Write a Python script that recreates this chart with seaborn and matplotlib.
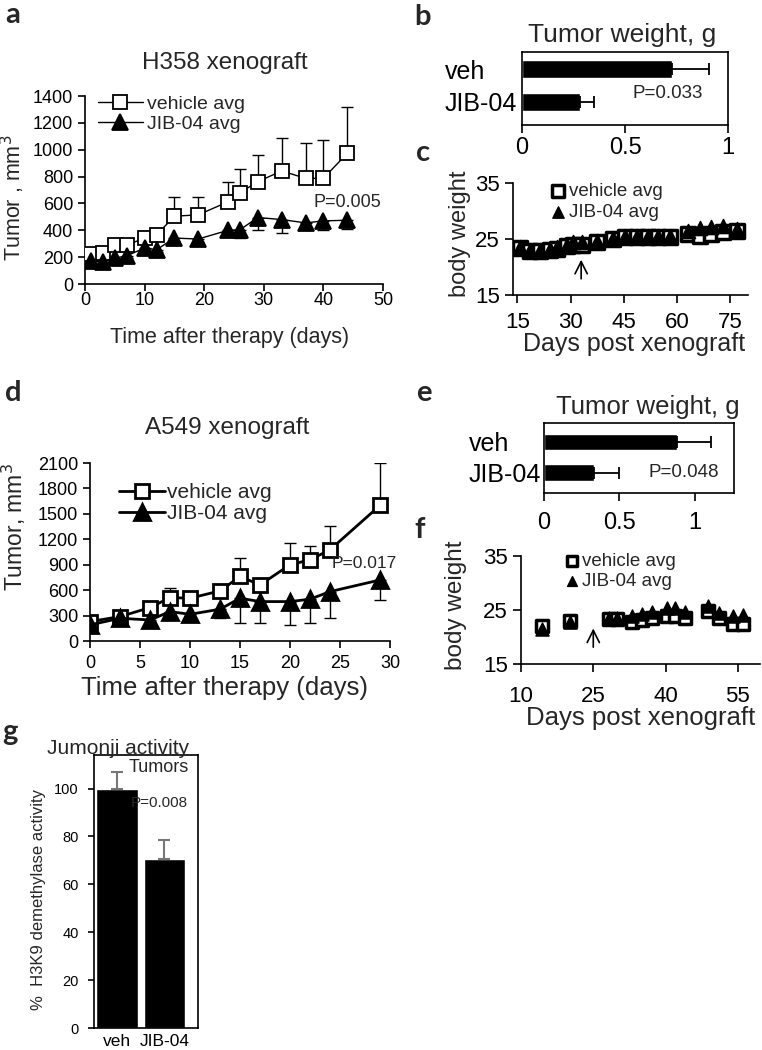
import numpy as np
import pandas as pd
import seaborn as sns
import matplotlib.pyplot as plt

# -----------------------------------------------------------------------------
# Data
# -----------------------------------------------------------------------------

# a: H358 xenograft, tumour volume (mm3)
a_days = [1, 3, 5, 7, 10, 12, 15, 19, 24, 26, 29, 33, 37, 40, 44]
a_veh = [225, 228, 290, 292, 340, 365, 505, 515, 612, 680, 762, 842, 787, 787, 973]
a_veh_err = [30, 30, 40, 40, 55, 55, 145, 135, 150, 180, 195, 248, 262, 287, 343]
a_jib = [173, 164, 193, 210, 268, 255, 342, 335, 400, 404, 495, 480, 455, 470, 475]
a_jib_err = [15, 15, 15, 15, 20, 20, 20, 20, 45, 60, 95, 100, 40, 65, 65]

# b: H358 tumour weight (g)
bar_groups = ["veh", "JIB-04"]
b_weight = [0.73, 0.28]
b_err = [0.18, 0.07]

# c: H358 body weight (g)
c_days = [15.8, 18.6, 21.4, 24.2, 26.1, 28.9, 30.8, 33.1, 37.4, 42, 45.3, 48.6,
          51.9, 54.7, 58, 63.2, 66.5, 69.7, 73, 76.8]
c_veh = [23.4, 22.8, 22.8, 23.0, 23.3, 23.7, 24.0, 24.0, 24.4, 25.0, 25.3, 25.3,
         25.3, 25.3, 25.4, 25.9, 25.5, 25.9, 26.2, 26.4]
c_jib = [23.6, 23.0, 23.0, 23.2, 23.5, 24.0, 24.4, 24.4, 24.7, 25.2, 25.5, 25.5,
         25.5, 25.5, 25.6, 26.4, 26.9, 27.1, 27.3, 26.7]

# d: A549 xenograft, tumour volume (mm3)
d_days = [0, 3, 6, 8, 10, 13, 15, 17, 20, 22, 24, 29]
d_veh = [229, 288, 394, 512, 505, 591, 761, 662, 899, 958, 1076, 1600]
d_veh_err = [30, 47, 30, 111, 40, 30, 217, 30, 256, 157, 284, 500]
d_jib = [190, 268, 248, 347, 315, 375, 505, 465, 465, 493, 583, 720]
d_jib_err = [20, 20, 20, 91, 30, 107, 296, 256, 275, 276, 315, 236]

# e: A549 tumour weight (g)
e_weight = [0.88, 0.33]
e_err = [0.225, 0.17]

# f: A549 body weight (g)
f_days = [14.3, 20.1, 28.2, 29.9, 33, 35.1, 37.2, 40.2, 42, 44.1, 48.9, 51, 54, 56]
f_veh = [22.0, 23.0, 23.3, 23.3, 22.7, 23.1, 23.6, 23.9, 23.8, 23.6, 24.9, 23.5, 22.5, 22.4]
f_jib = [21.4, 22.8, 23.5, 23.5, 23.8, 24.3, 24.7, 25.3, 25.3, 24.7, 25.7, 24.4, 23.9, 24.1]

# g: Jumonji activity in tumours (%)
g_activity = [100, 70.5]
g_err = [6.8, 8.0]

# -----------------------------------------------------------------------------
# Plotting attributes
# -----------------------------------------------------------------------------

sns.set_theme(style="ticks")
plt.rcParams["font.family"] = ["Liberation Sans", "DejaVu Sans"]
plt.rcParams["axes.linewidth"] = 1.2
plt.rcParams["xtick.major.width"] = 1.2
plt.rcParams["ytick.major.width"] = 1.2
plt.rcParams["xtick.color"] = "black"
plt.rcParams["ytick.color"] = "black"
plt.rcParams["axes.edgecolor"] = "black"

W, H = 762, 1050


def rect(l, t, r, b):
    return [l / W, 1 - b / H, (r - l) / W, (b - t) / H]


def fx(x):
    return x / W


def fy(y):
    return 1 - y / H


fig = plt.figure(figsize=(W / 100, H / 100), dpi=100)
fig.patch.set_facecolor("white")

label_font = dict(family=["Lato", "DejaVu Sans"], fontweight="bold", fontsize=21)


def panel_label(s, x, y):
    fig.text(fx(x), fy(y), s, ha="center", va="center", **label_font)


def tumour_panel(ax, days, veh, veh_err, jib, jib_err, lw, ms, mew):
    zero = [0] * len(days)
    ax.errorbar(days, veh, yerr=[zero, veh_err], fmt="none", ecolor="black",
                elinewidth=1, capsize=4, capthick=1, zorder=1)
    ax.errorbar(days, jib, yerr=[jib_err, zero], fmt="none", ecolor="black",
                elinewidth=1, capsize=4, capthick=1, zorder=1)
    sns.lineplot(x=days, y=veh, ax=ax, color="black", lw=lw, marker="s", ms=ms,
                 markerfacecolor="white", markeredgecolor="black",
                 markeredgewidth=mew, label="vehicle avg", zorder=3)
    sns.lineplot(x=days, y=jib, ax=ax, color="black", lw=lw, marker="^", ms=ms + 1,
                 markerfacecolor="black", markeredgecolor="black",
                 markeredgewidth=mew, label="JIB-04 avg", zorder=3)
    sns.despine(ax=ax)


def weight_panel(ax, weight, err, label_x, ax_left, tick_pad):
    sns.barplot(x=weight, y=bar_groups, orient="h", color="black", saturation=1,
                width=0.55, errorbar=None, ax=ax)
    ax.errorbar(weight, [0, 1], xerr=[[0, 0], err], fmt="none", ecolor="black",
                elinewidth=1.3, capsize=4, capthick=1.3)
    # left-aligned category labels, as in the original
    ax.tick_params(axis="y", length=0, pad=(ax_left - label_x) * 0.72, labelsize=18)
    for lbl in ax.get_yticklabels():
        lbl.set_horizontalalignment("left")
    ax.tick_params(axis="x", length=6, direction="out", labelsize=17, pad=tick_pad)
    ax.set(xlabel=None, ylabel=None)
    for s in ax.spines.values():
        s.set_visible(True)


def bodyweight_panel(ax, days, veh, jib, ms):
    sns.scatterplot(x=days, y=veh, ax=ax, marker="s", s=ms, color="white",
                    edgecolor="black", linewidth=2.5, label="vehicle avg", zorder=3)
    sns.scatterplot(x=days, y=jib, ax=ax, marker="^", s=ms * 1.05, color="black",
                    edgecolor="black", linewidth=1, label="JIB-04 avg", zorder=4)
    ax.set_ylim(15, 35)
    ax.set_yticks([15, 25, 35])
    ax.tick_params(axis="both", length=6, direction="out", labelsize=16)
    sns.despine(ax=ax)


# -----------------------------------------------------------------------------
# a: H358 xenograft
# -----------------------------------------------------------------------------
ax = fig.add_axes(rect(85, 96, 383, 284))
tumour_panel(ax, a_days, a_veh, a_veh_err, a_jib, a_jib_err, lw=1, ms=10, mew=1.3)
ax.set_xlim(0, 50)
ax.set_ylim(0, 1400)
ax.set_yticks(range(0, 1401, 200))
ax.set_xticks(range(0, 51, 10))
ax.tick_params(axis="both", length=5, direction="out", labelsize=13)
ax.tick_params(axis="x", pad=1)
ax.set_xlabel("Time after therapy (days)", fontsize=15.5)
ax.xaxis.set_label_coords(fx(230), fy(338), transform=fig.transFigure)
ax.xaxis.label.set_va("center")
ax.set_ylabel("Tumor , mm$^3$", fontsize=15.5)
ax.yaxis.set_label_coords(fx(13), fy(198), transform=fig.transFigure)
ax.yaxis.label.set_va("center")
ax.legend(loc="upper left", bbox_to_anchor=(fx(98), fy(95)),
          bbox_transform=fig.transFigure, frameon=False, fontsize=14,
          borderpad=0, borderaxespad=0, handlelength=2.3, handletextpad=0.2,
          labelspacing=0.15)
ax.text(38.3, 610, "P=0.005", fontsize=13, va="center", ha="left")
fig.text(fx(225), fy(63), "H358 xenograft", fontsize=17.5, ha="center", va="center")
panel_label("a", 13, 15)

# -----------------------------------------------------------------------------
# b: H358 tumour weight
# -----------------------------------------------------------------------------
ax = fig.add_axes(rect(522, 52, 728, 125))
weight_panel(ax, b_weight, b_err, label_x=445, ax_left=522, tick_pad=3)
ax.set_xlim(0, 1)
ax.set_xticks([0, 0.5, 1])
ax.set_xticklabels(["0", "0.5", "1"])
ax.set_ylim(1.72, -0.53)
ax.text(0.535, 1.0, "P=0.033", fontsize=13.5, va="bottom", ha="left")
fig.text(fx(622), fy(35), "Tumor weight, g", fontsize=19, ha="center", va="center")
panel_label("b", 423, 17)

# -----------------------------------------------------------------------------
# c: H358 body weight
# -----------------------------------------------------------------------------
ax = fig.add_axes(rect(513, 183, 748, 295))
bodyweight_panel(ax, c_days, c_veh, c_jib, ms=100)
ax.set_xlim(13.8, 80)
ax.set_xticks([15, 30, 45, 60, 75])
ax.tick_params(axis="x", pad=6)
ax.annotate("", xy=(33, 21.8), xytext=(33, 17.4),
            arrowprops=dict(arrowstyle="->", lw=1.2, color="black", mutation_scale=22))
ax.set_xlabel("Days post xenograft", fontsize=18)
ax.xaxis.set_label_coords(fx(634), fy(344), transform=fig.transFigure)
ax.xaxis.label.set_va("center")
ax.set_ylabel("body weight", fontsize=17)
ax.yaxis.set_label_coords(fx(460), fy(234), transform=fig.transFigure)
ax.yaxis.label.set_va("center")
ax.legend(loc="upper left", bbox_to_anchor=(fx(551), fy(183)),
          bbox_transform=fig.transFigure, frameon=False, fontsize=13.5,
          borderpad=0, borderaxespad=0, handlelength=0.7, handletextpad=0.25,
          labelspacing=0.2, markerscale=0.8)
panel_label("c", 423, 153)

# -----------------------------------------------------------------------------
# d: A549 xenograft
# -----------------------------------------------------------------------------
ax = fig.add_axes(rect(90, 463, 390, 641))
tumour_panel(ax, d_days, d_veh, d_veh_err, d_jib, d_jib_err, lw=2, ms=10, mew=2)
ax.set_xlim(0, 30)
ax.set_ylim(0, 2100)
ax.set_yticks(range(0, 2101, 300))
ax.set_xticks(range(0, 31, 5))
ax.tick_params(axis="both", length=5, direction="out", labelsize=13)
ax.tick_params(axis="x", pad=5)
ax.set_xlabel("Time after therapy (days)", fontsize=18.5)
ax.xaxis.set_label_coords(fx(225), fy(688), transform=fig.transFigure)
ax.xaxis.label.set_va("center")
ax.set_ylabel("Tumor, mm$^3$", fontsize=16.5)
ax.yaxis.set_label_coords(fx(14), fy(527), transform=fig.transFigure)
ax.yaxis.label.set_va("center")
ax.legend(loc="upper left", bbox_to_anchor=(fx(119), fy(483)),
          bbox_transform=fig.transFigure, frameon=False, fontsize=15,
          borderpad=0, borderaxespad=0, handlelength=2.2, handletextpad=0.1,
          labelspacing=0.1)
ax.text(24.2, 920, "P=0.017", fontsize=12.5, va="center", ha="left")
fig.text(fx(227), fy(428), "A549 xenograft", fontsize=17.5, ha="center", va="center")
panel_label("d", 13, 393)

# -----------------------------------------------------------------------------
# e: A549 tumour weight
# -----------------------------------------------------------------------------
ax = fig.add_axes(rect(544, 423, 734, 493))
weight_panel(ax, e_weight, e_err, label_x=469, ax_left=544, tick_pad=8)
ax.set_xlim(0, 1.26)
ax.set_xticks([0, 0.5, 1])
ax.set_xticklabels(["0", "0.5", "1"])
ax.set_ylim(1.67, -0.62)
ax.text(0.69, 1.0, "P=0.048", fontsize=13.5, va="center", ha="left")
fig.text(fx(648), fy(407), "Tumor weight, g", fontsize=18.5, ha="center", va="center")
panel_label("e", 424, 393)

# -----------------------------------------------------------------------------
# f: A549 body weight
# -----------------------------------------------------------------------------
ax = fig.add_axes(rect(521, 556, 760, 664))
bodyweight_panel(ax, f_days, f_veh, f_jib, ms=85)
ax.set_xlim(10, 59.6)
ax.set_xticks([10, 25, 40, 55])
ax.tick_params(axis="x", pad=10)
ax.annotate("", xy=(25, 22.1), xytext=(25, 17.6),
            arrowprops=dict(arrowstyle="->", lw=1.2, color="black", mutation_scale=22))
ax.set_xlabel("Days post xenograft", fontsize=18.5)
ax.xaxis.set_label_coords(fx(641), fy(718), transform=fig.transFigure)
ax.xaxis.label.set_va("center")
ax.set_ylabel("body weight", fontsize=17.5)
ax.yaxis.set_label_coords(fx(456), fy(605), transform=fig.transFigure)
ax.yaxis.label.set_va("center")
ax.legend(loc="upper left", bbox_to_anchor=(fx(565), fy(553)),
          bbox_transform=fig.transFigure, frameon=False, fontsize=13.5,
          borderpad=0, borderaxespad=0, handlelength=0.7, handletextpad=0.2,
          labelspacing=0.15, markerscale=0.75)
panel_label("f", 420, 530)

# -----------------------------------------------------------------------------
# g: Jumonji activity
# -----------------------------------------------------------------------------
ax = fig.add_axes(rect(94, 755, 198, 1028))
sns.barplot(x=bar_groups, y=g_activity, color="black", saturation=1, width=0.88,
            errorbar=None, ax=ax)
ax.errorbar([0, 1], g_activity, yerr=[[0, 0], g_err], fmt="none", ecolor="#777777",
            elinewidth=1.5, capsize=4, capthick=1.5)
ax.set_xlim(-0.486, 1.71)
ax.set_ylim(0, 114)
ax.set_yticks(range(0, 101, 20))
ax.tick_params(axis="y", length=4, direction="out", labelsize=10.5, pad=7)
ax.tick_params(axis="x", length=0, labelsize=12.5, pad=4)
for s in ax.spines.values():
    s.set_visible(True)
ax.set_ylabel("%  H3K9 demethylase activity", fontsize=12)
ax.yaxis.set_label_coords(fx(39), fy(900), transform=fig.transFigure)
ax.yaxis.label.set_va("center")
ax.text(0.89, 108.6, "Tumors", fontsize=13, va="center", ha="center")
ax.text(0.89, 94, "P=0.008", fontsize=11, va="center", ha="center")
fig.text(fx(118), fy(748), "Jumonji activity", fontsize=15, ha="center", va="center")
panel_label("g", 10, 732)

fig.savefig("out.png", dpi=100, facecolor="white")
